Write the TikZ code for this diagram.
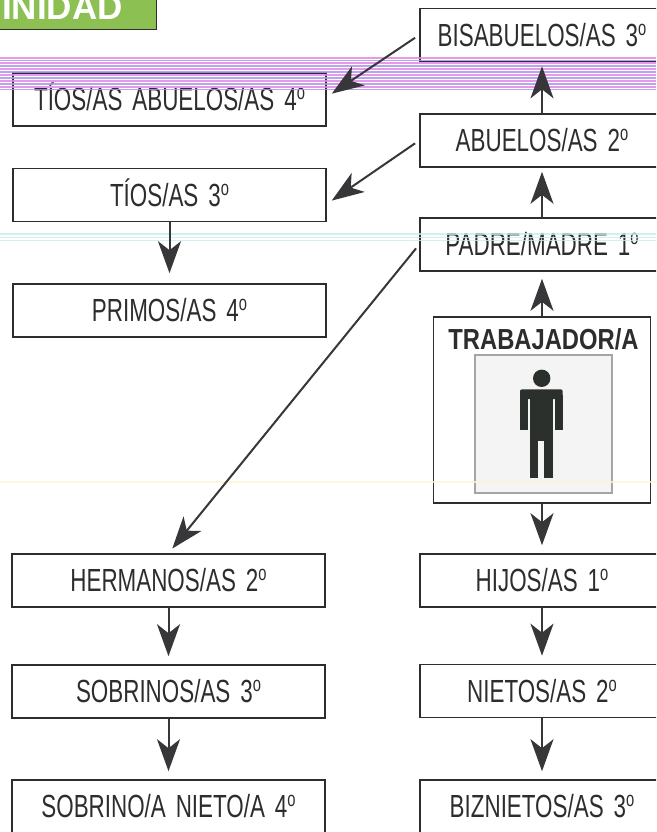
\documentclass[tikz,border=0pt]{standalone}
\usepackage{fontspec}
\setmainfont{Liberation Sans}[FakeStretch=0.70, WordSpace=1.6]
\newfontfamily\trabfont{Liberation Sans Bold}[FakeStretch=0.82]
\newfontfamily\headfont{Liberation Sans Bold}
\usetikzlibrary{arrows.meta}
\definecolor{ink}{RGB}{45,45,45}
\definecolor{arrgray}{RGB}{55,55,58}
\definecolor{grn}{RGB}{140,192,82}
\definecolor{pinkl}{RGB}{228,135,228}
\definecolor{lavl}{RGB}{170,150,238}
\definecolor{cyanl}{RGB}{195,238,238}
\definecolor{yell}{RGB}{250,246,205}
\definecolor{picgray}{RGB}{165,165,165}
\definecolor{picbg}{RGB}{244,244,244}
\definecolor{figc}{RGB}{44,48,44}
\newcommand\ordo{\raisebox{11pt}{\fontsize{21}{21}\selectfont o}}
\begin{document}
\begin{tikzpicture}[x=1pt,y=-1pt,
 box/.style={draw=ink, line width=1.6pt, fill=white, minimum height=53pt,
   text height=22.4pt, text depth=0pt, inner sep=0pt,
   font=\fontsize{32}{32}\selectfont, text=ink},
 lbox/.style={box, minimum width=313pt},
 rbox/.style={box, minimum width=244pt},
 arr/.style={draw=arrgray, line width=2pt,
   -{Stealth[length=32pt,width=23pt,inset=9pt]}, shorten >=5pt}
]
\useasboundingbox (0,0) rectangle (656,832);
\clip (0,0) rectangle (656,832);
\fill[white] (0,0) rectangle (656,832);

% title tab
\node[draw=ink, fill=grn, line width=1.2pt, minimum width=200pt, minimum height=50pt,
  anchor=south east, inner sep=0pt] (title) at (157,30) {};
\node[anchor=base east, text=white, inner sep=0pt,
  font=\headfont\fontsize{35}{35}\selectfont] (titletext) at (123,20) {INIDAD};

% left column
\node[lbox] (tab) at (169.5,99.5) {TÍOS/AS ABUELOS/AS 4\ordo};
\node[lbox] (t3)  at (169.5,195)  {TÍOS/AS 3\ordo};
\node[lbox] (pri) at (169.5,310.5) {PRIMOS/AS 4\ordo};
\node[lbox] (her) at (168.5,580.5) {HERMANOS/AS 2\ordo};
\node[lbox] (sob) at (168.5,691.5) {SOBRINOS/AS 3\ordo};
\node[lbox] (sn)  at (168.5,806.5) {SOBRINO/A NIETO/A 4\ordo};

% right column
\node[rbox] (bis) at (542,35)    {BISABUELOS/AS 3\ordo};
\node[rbox] (abu) at (542,140.5) {ABUELOS/AS 2\ordo};
\node[rbox] (pad) at (542,244.5) {PADRE/MADRE 1\ordo};
\node[rbox] (hij) at (542,580.5) {HIJOS/AS 1\ordo};
\node[rbox] (nie) at (542,691)   {NIETOS/AS 2\ordo};
\node[rbox] (biz) at (542,806.5) {BIZNIETOS/AS 3\ordo};

% worker box
\node[draw=ink, line width=1.6pt, fill=white, minimum width=217pt,
  minimum height=186pt, inner sep=0pt] (trab) at (542,410) {};
\node[anchor=base, text=ink, inner sep=0pt,
  font=\trabfont\fontsize{29}{29}\selectfont] (trabtext) at (543.5,349) {TRABAJADOR/A};
\node[draw=picgray, fill=picbg, line width=2pt, minimum width=137pt,
  minimum height=138pt, inner sep=0pt] (pic) at (543.5,424) {};
% figure
\fill[figc] (541.7,378.3) circle (8.7pt);
\fill[figc, rounded corners=2pt] (520,389.3) rectangle (562.7,399);
\fill[figc] (520,395) rectangle (528.2,430);
\fill[figc] (555,395) rectangle (562.7,430);
\fill[figc] (530,395) rectangle (553.3,440.5);
\fill[figc] (530,440) rectangle (538.3,478.3);
\fill[figc] (544,440) rectangle (553.3,478.3);

% scan stripes
\foreach \yy/\cc in {58/pinkl,60.5/lavl,63/pinkl,66/lavl,69/pinkl,72/lavl,
   75/pinkl,78/lavl,81/pinkl,84/lavl,87/pinkl,89.5/lavl}
  \draw[\cc, line width=1.5pt, opacity=0.85] (0,\yy) -- (656,\yy);
\foreach \yy in {234,237.5,240.5}
  \draw[cyanl, line width=1.2pt, opacity=0.8] (0,\yy) -- (656,\yy);
\draw[yell, line width=1.5pt, opacity=0.8] (0,482) -- (656,482);

% vertical arrows
\draw[arr, shorten >=4pt] (abu.north) -- (bis.south);
\draw[arr, shorten >=4pt] (pad.north) -- (abu.south);
\draw[arr, shorten >=7pt] (trab.north) -- (pad.south);
\draw[arr, shorten >=8pt] (trab.south) -- (hij.north);
\draw[arr, shorten >=8pt] (hij.south) -- (nie.north);
\draw[arr, shorten >=8pt] (nie.south) -- (biz.north);
\draw[arr, shorten >=10pt] (t3.south) -- (pri.north);
\draw[arr, shorten >=8pt] (her.south) -- (sob.north);
\draw[arr, shorten >=8pt] (sob.south) -- (sn.north);

% diagonal arrows
\draw[arr, shorten <=5pt, shorten >=6pt] (bis.west) -- ([yshift=2.5pt]tab.east);
\draw[arr, shorten <=5pt, shorten >=6pt] (abu.west) -- ([yshift=-9pt]t3.east);
\draw[arr, shorten <=5pt, shorten >=6pt] (pad.west) -- (her.north);
\end{tikzpicture}
\end{document}
